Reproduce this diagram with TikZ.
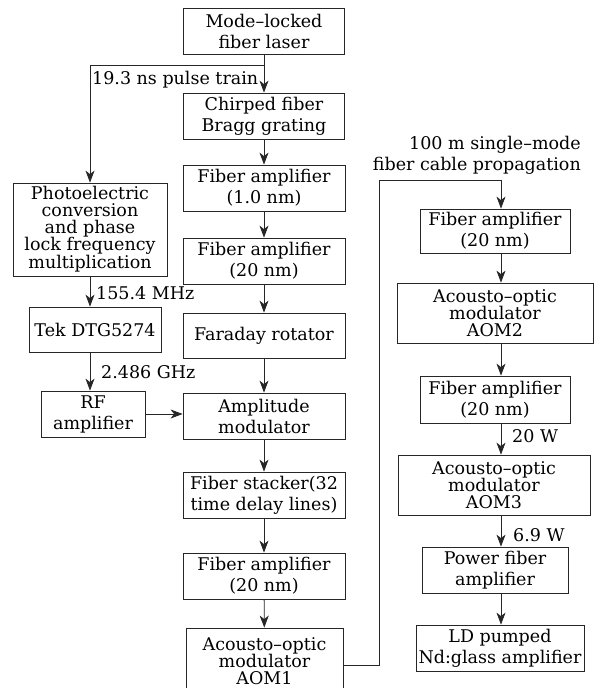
\documentclass[tikz,border=0pt]{standalone}
\usepackage{fontspec}
\setmainfont{DejaVu Serif}
\usetikzlibrary{arrows.meta}
\begin{document}
\begin{tikzpicture}[x=1pt, y=-1pt]
\tikzset{boite/.style={draw=black!85, line width=0.8pt, align=center, inner sep=0pt, font=\fontsize{17.5}{21}\selectfont},
  serre/.style={font=\fontsize{17.5}{17}\selectfont},
  etiq/.style={anchor=west, inner sep=0pt, font=\fontsize{17.5}{21}\selectfont},
  fleche/.style={draw=black!85, line width=0.8pt, -{Stealth[length=12pt, width=9pt, inset=3.5pt]}},
  trait/.style={draw=black!85, line width=0.8pt}}
\useasboundingbox (0,0) rectangle (615,688);
\clip (0,0) rectangle (615,688);
% colonne du milieu
\node[boite, minimum width=161pt, minimum height=46pt] (laser) at (264,31) {Mode--locked\\fiber laser};
\node[boite, minimum width=161pt, minimum height=46pt] (cfbg) at (264,116) {Chirped fiber\\Bragg grating};
\node[boite, minimum width=162pt, minimum height=46pt] (amp1) at (264,188) {Fiber amplifier\\(1.0 nm)};
\node[boite, minimum width=162pt, minimum height=46pt] (amp2) at (264,261) {Fiber amplifier\\(20 nm)};
\node[boite, minimum width=162pt, minimum height=45pt] (faraday) at (264,335.5) {Faraday rotator};
\node[boite, minimum width=162pt, minimum height=46pt] (ampmod) at (264,416) {Amplitude\\modulator};
\node[boite, minimum width=162pt, minimum height=46pt] (stacker) at (264,495) {Fiber stacker(32\\time delay lines)};
\node[boite, minimum width=162pt, minimum height=46pt] (amp3) at (264,576) {Fiber amplifier\\(20 nm)};
\node[boite, serre, minimum width=157pt, minimum height=66pt] (aom1) at (264.5,661) {Acousto--optic\\modulator\\AOM1};
% colonne de gauche
\node[boite, serre, minimum width=154pt, minimum height=93pt] (photo) at (90,229.5) {Photoelectric\\conversion\\and phase\\lock frequency\\multiplication};
\node[boite, minimum width=132pt, minimum height=45pt] (tek) at (95,329.5) {Tek DTG5274};
\node[boite, minimum width=104pt, minimum height=46pt] (rf) at (93,414) {RF\\amplifier};
% colonne de droite
\coordinate (rcol) at (501,0);
\node[boite, minimum width=150pt, minimum height=44pt] (ramp1) at (495,231) {Fiber amplifier\\(20 nm)};
\node[boite, serre, minimum width=196pt, minimum height=60pt] (aom2) at (495,313) {Acousto--optic\\modulator\\AOM2};
\node[boite, minimum width=150pt, minimum height=47pt] (ramp2) at (495,399.5) {Fiber amplifier\\(20 nm)};
\node[boite, serre, minimum width=192pt, minimum height=60pt] (aom3) at (494,485) {Acousto--optic\\modulator\\AOM3};
\node[boite, minimum width=146pt, minimum height=46pt] (pamp) at (495,570) {Power fiber\\amplifier};
\node[boite, minimum width=168pt, minimum height=46pt] (ld) at (500,648) {LD pumped\\Nd:glass amplifier};
% etiquettes
\node[etiq] (train) at (92,80) {19.3 ns pulse train};
\node[etiq] (mhz) at (96,293) {155.4 MHz};
\node[etiq] (ghz) at (101,372) {2.486 GHz};
\node[etiq] (w20) at (512,436) {20 W};
\node[etiq] (w69) at (513,535) {6.9 W};
\node[etiq, anchor=east, align=right] (cable) at (581,155) {100 m single--mode\\fiber cable propagation};
% liaisons
\coordinate (split) at (264,65);
\coordinate (pli) at (379,180);
\draw[trait] (laser) -- (split);
\draw[fleche] (split) -- (cfbg);
\draw[fleche] (split) -| (photo.north);
\draw[fleche] (cfbg) -- (amp1);
\draw[fleche] (amp1) -- (amp2);
\draw[fleche] (amp2) -- (faraday);
\draw[fleche] (faraday) -- (ampmod);
\draw[fleche] (ampmod) -- (stacker);
\draw[fleche] (stacker) -- (amp3);
\draw[fleche] (amp3) -- (aom1);
\draw[fleche] (photo.south) -- (photo.south |- tek.north);
\draw[fleche] (photo.south |- tek.south) -- (photo.south |- rf.north);
\draw[fleche] (rf.east) -- (rf.east -| ampmod.west);
\draw[fleche] ([yshift=-4pt]aom1.east) -| (pli) -| (rcol |- ramp1.north);
\draw[fleche] (rcol |- ramp1.south) -- (rcol |- aom2.north);
\draw[fleche] (rcol |- aom2.south) -- (rcol |- ramp2.north);
\draw[fleche] (rcol |- ramp2.south) -- (rcol |- aom3.north);
\draw[fleche] (rcol |- aom3.south) -- (rcol |- pamp.north);
\draw[fleche] (rcol |- pamp.south) -- (rcol |- ld.north);
\end{tikzpicture}
\end{document}
